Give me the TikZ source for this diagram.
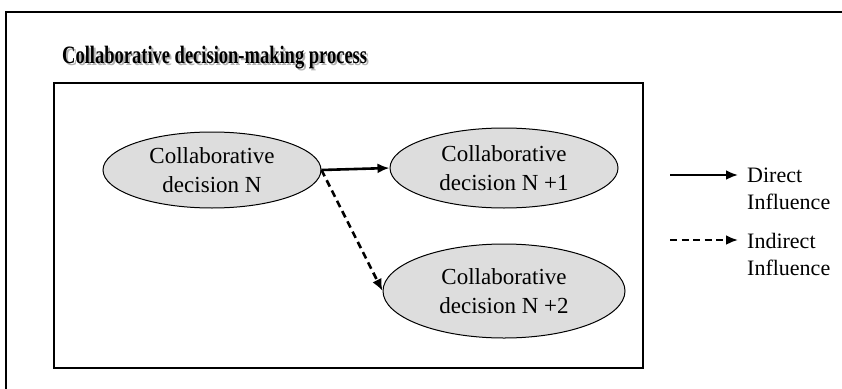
\documentclass[tikz,border=0pt]{standalone}
\usepackage{fontspec}
\setmainfont{Liberation Serif}
\usetikzlibrary{shapes.geometric,arrows.meta}
\definecolor{ellfill}{HTML}{DDDDDD}
\newcommand{\mytitletext}{\scalebox{0.74}[1]{\fontsize{25}{25}\selectfont\bfseries Collaborative decision-making process}}
\begin{document}
\begin{tikzpicture}[x=1pt,y=-1pt,
  decision/.style={ellipse,draw=black,line width=1pt,fill=ellfill,inner sep=0pt},
  etext/.style={align=center,font=\fontsize{23}{29}\selectfont},
  ltext/.style={align=left,anchor=west,font=\fontsize{22}{27}\selectfont,inner sep=0pt},
  frame/.style={draw=black,line width=1.8pt},
  flow/.style={line width=2.6pt,-{Latex[length=12pt,width=10pt]}},
  indirect/.style={flow,dash pattern=on 7pt off 4.5pt}
]
\useasboundingbox (0,0) rectangle (842,388);
\clip (0,0) rectangle (842,388);
% outer frame (continues beyond picture)
\draw[frame] (6,12) rectangle (860,400);
% title with shadow
\node[anchor=west,inner sep=0pt,text=gray!60] (titleshadow) at (64,60) {\mytitletext};
\node[anchor=west,inner sep=0pt] (title) at (62,58) {\mytitletext};
% inner box
\draw[frame] (54,83) rectangle (643,368);
% decisions
\node[decision,minimum width=218pt,minimum height=76pt] (dN) at (212,170) {};
\node[etext] (tN) at (dN.center) {Collaborative\\decision N};
\node[decision,minimum width=228pt,minimum height=80pt] (dN1) at (504,168) {};
\node[etext] (tN1) at (dN1.center) {Collaborative\\decision N +1};
\node[decision,minimum width=242pt,minimum height=94pt] (dN2) at (504,291) {};
\node[etext] (tN2) at (dN2.center) {Collaborative\\decision N +2};
% influences
\draw[flow] (dN.east) -- (dN1.west);
\draw[indirect] (dN.east) -- (dN2.west);
% legend
\node[ltext] (lDirect) at (747,189) {Direct\\Influence};
\node[ltext] (lIndirect) at (747,254) {Indirect\\Influence};
\coordinate (sDirect) at (670,175);
\coordinate (sIndirect) at (670,240);
\draw[flow] (sDirect) -- ([xshift=-9pt]sDirect -| lDirect.west);
\draw[indirect] (sIndirect) -- ([xshift=-9pt]sIndirect -| lIndirect.west);
\end{tikzpicture}
\end{document}
